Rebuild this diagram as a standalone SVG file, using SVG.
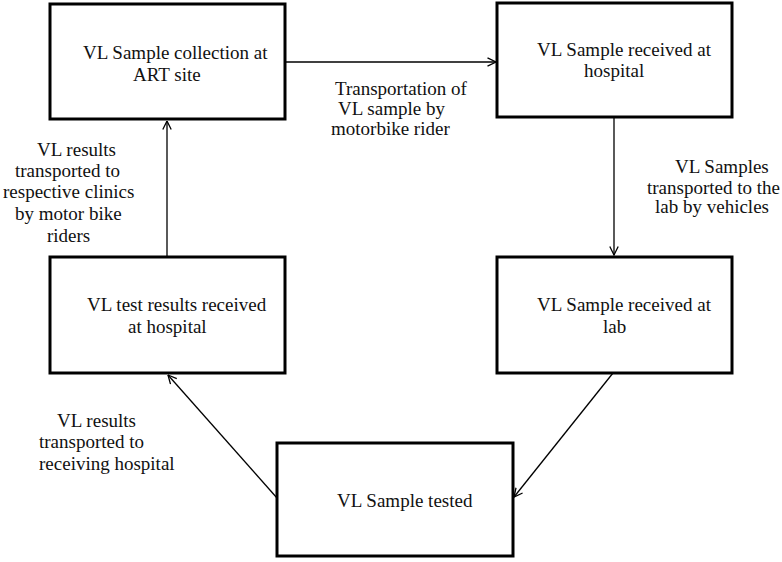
<svg xmlns="http://www.w3.org/2000/svg" width="782" height="562" viewBox="0 0 782 562">
<style>
.box{fill:#fff;stroke:#000;stroke-width:3}
.t{font-family:"Liberation Serif","Times New Roman",serif;font-size:19px;fill:#111}
.c{stroke:#000;stroke-width:1.3;fill:none}
</style>
<defs>
<marker id="arr" viewBox="0 0 10 10" refX="9.5" refY="5" markerWidth="10" markerHeight="10" orient="auto" markerUnits="userSpaceOnUse">
<path d="M1,0.8 L9.5,5 L1,9.2" fill="none" stroke="#000" stroke-width="1.3"/>
</marker>
</defs>
<rect width="782" height="562" fill="#fff"/>
<g id="connectors">
<line class="c" x1="285" y1="62" x2="496" y2="62" marker-end="url(#arr)"/>
<line class="c" x1="167" y1="257" x2="167" y2="121" marker-end="url(#arr)"/>
<line class="c" x1="614" y1="117" x2="614" y2="255" marker-end="url(#arr)"/>
<line class="c" x1="613" y1="373" x2="514" y2="497" marker-end="url(#arr)"/>
<line class="c" x1="277" y1="498" x2="168" y2="375" marker-end="url(#arr)"/>
</g>
<g id="node-collection">
<rect class="box" x="50" y="4" width="235" height="115"/>
<text class="t" x="83" y="59">VL Sample collection at</text>
<text class="t" x="133" y="81">ART site</text>
</g>
<g id="node-hospital">
<rect class="box" x="497" y="3" width="235" height="114"/>
<text class="t" x="537" y="56">VL Sample received at</text>
<text class="t" x="584" y="77">hospital</text>
</g>
<g id="node-results">
<rect class="box" x="50" y="257" width="235" height="116"/>
<text class="t" x="87" y="311">VL test results received</text>
<text class="t" x="128" y="333">at hospital</text>
</g>
<g id="node-lab">
<rect class="box" x="497" y="257" width="235" height="116"/>
<text class="t" x="537" y="311">VL Sample received at</text>
<text class="t" x="603" y="333">lab</text>
</g>
<g id="node-tested">
<rect class="box" x="277" y="443" width="236" height="113"/>
<text class="t" x="337" y="507">VL Sample tested</text>
</g>
<g id="labels">
<text class="t" x="335" y="95">Transportation of</text>
<text class="t" x="338" y="115">VL sample by</text>
<text class="t" x="331" y="135">motorbike rider</text>
<text class="t" x="37" y="156">VL results</text>
<text class="t" x="15" y="177">transported to</text>
<text class="t" x="3" y="198">respective clinics</text>
<text class="t" x="15" y="220">by motor bike</text>
<text class="t" x="47" y="242">riders</text>
<text class="t" x="675" y="173">VL Samples</text>
<text class="t" x="647" y="194">transported to the</text>
<text class="t" x="655" y="213">lab by vehicles</text>
<text class="t" x="57" y="427">VL results</text>
<text class="t" x="39" y="448">transported to</text>
<text class="t" x="39" y="470">receiving hospital</text>
</g>
</svg>
